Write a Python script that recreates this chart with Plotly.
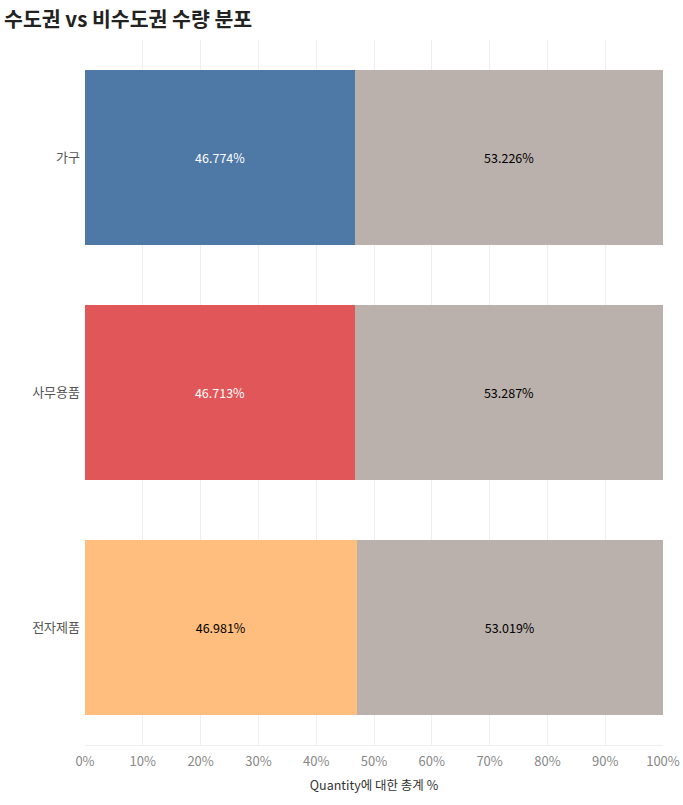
import plotly.graph_objects as go

categories = ["가구", "사무용품", "전자제품"]
capital_pct = [46.774, 46.713, 46.981]
noncapital_pct = [53.226, 53.287, 53.019]
capital_colors = ["#4e79a7", "#e15759", "#ffbe7d"]
capital_text_colors = ["white", "white", "black"]
tick_vals = [0, 10, 20, 30, 40, 50, 60, 70, 80, 90, 100]
tick_text = [f"{v}%" for v in tick_vals]

font_family = "Noto Sans CJK KR, Noto Sans, sans-serif"

fig = go.Figure()
fig.add_trace(go.Bar(
    y=categories, x=capital_pct, orientation="h",
    marker=dict(color=capital_colors, line=dict(width=0)),
    text=[f"{v:.3f}%" for v in capital_pct],
    textposition="inside", insidetextanchor="middle",
    textfont=dict(color=capital_text_colors, size=12.5, family=font_family),
    width=0.745, name="수도권", hoverinfo="skip",
))
fig.add_trace(go.Bar(
    y=categories, x=noncapital_pct, orientation="h",
    marker=dict(color="#bab0ac", line=dict(width=0)),
    text=[f"{v:.3f}%" for v in noncapital_pct],
    textposition="inside", insidetextanchor="middle",
    textfont=dict(color="black", size=12.5, family=font_family),
    width=0.745, name="비수도권", hoverinfo="skip",
))

fig.update_layout(
    barmode="stack",
    width=683, height=805,
    margin=dict(l=85, r=20, t=40, b=60, autoexpand=False),
    paper_bgcolor="white", plot_bgcolor="white",
    showlegend=False,
    font=dict(family=font_family),
    title=dict(text="<b>수도권 vs 비수도권 수량 분포</b>", xref="container", x=0.006,
               xanchor="left", yref="container", y=0.975, yanchor="middle",
               automargin=False,
               font=dict(size=20.5, color="#222222", family=font_family)),
)
fig.update_xaxes(
    range=[0, 100], tickvals=tick_vals, ticktext=tick_text,
    showgrid=True, gridcolor="#efefef", gridwidth=1,
    zeroline=False, showline=True, linecolor="#efefef",
    tickfont=dict(size=13, color="#888888"), ticklabelstandoff=4,
    title=dict(text="Quantity에 대한 총계 %", font=dict(size=12.5, color="#333333"), standoff=12),
    fixedrange=True, automargin=False,
)
fig.update_yaxes(
    autorange="reversed", showgrid=False, zeroline=False,
    tickfont=dict(size=13, color="#555555"), ticks="", ticklabelstandoff=4,
    fixedrange=True, automargin=False,
)

fig.write_html(
    "out.html",
    config={"displayModeBar": False},
    post_script="document.body.style.margin='0';document.body.style.padding='0';",
)
